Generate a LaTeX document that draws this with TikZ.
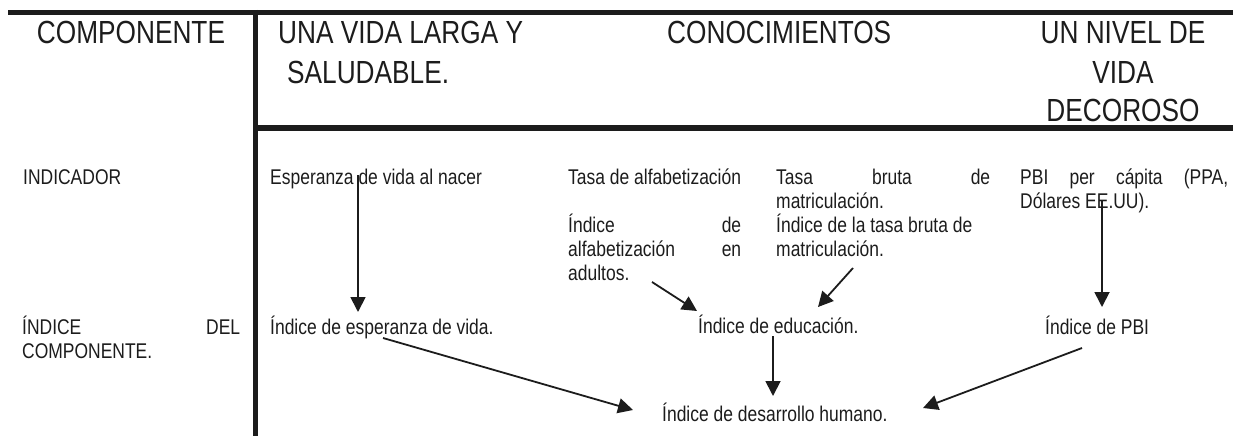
\documentclass[tikz,border=0pt]{standalone}
\usepackage{fontspec}
\setmainfont{Liberation Sans}
\newfontfamily\narrowfont{Liberation Sans}[FakeStretch=0.82]
\usetikzlibrary{arrows.meta}
\definecolor{ink}{RGB}{28,28,28}
\begin{document}
\begin{tikzpicture}[x=1pt,y=-1pt,
  rule/.style={line width=5.5pt, draw=ink, line cap=butt},
  head/.style={inner sep=0pt, font=\narrowfont\fontsize{32}{38}\selectfont, text=ink},
  body/.style={inner sep=0pt, anchor=base west, font=\narrowfont\fontsize{21.3}{24}\selectfont, text=ink},
  link/.style={draw=ink, line width=1.8pt, -{Triangle[length=15pt,width=15pt]}}]
\useasboundingbox (0,0) rectangle (1233,436);
% rules
\draw[rule] (8,12.5) -- (1233,12.5);
\draw[rule] (255.5,10) -- (255.5,436);
\draw[rule] (253,128) -- (1233,128);
% header
\node[head, anchor=base] (hcomp) at (131,44) {COMPONENTE};
\node[head, anchor=base west] (hvida1) at (278,44) {UNA VIDA LARGA Y};
\node[head, anchor=base west] (hvida2) at (287,83) {SALUDABLE.};
\node[head, anchor=base west] (hcono) at (667,44) {CONOCIMIENTOS};
\node[head, anchor=base] (hniv1) at (1123,44) {UN NIVEL DE};
\node[head, anchor=base] (hniv2) at (1123,83) {VIDA};
\node[head, anchor=base] (hniv3) at (1123,121) {DECOROSO};
% indicators
\node[body] (ind) at (23,184) {INDICADOR};
\node[body] (esp) at (270,184) {Esperanza de vida al nacer};
\node[body] (alf1) at (568,184) {Tasa de alfabetización};
\node[body] (alf2) at (568,232) {\makebox[173pt][s]{Índice de}};
\node[body] (alf3) at (568,256) {\makebox[173pt][s]{alfabetización en}};
\node[body] (alf4) at (568,280) {adultos.};
\node[body] (mat1) at (776,184) {\makebox[214pt][s]{Tasa bruta de}};
\node[body] (mat2) at (776,208) {matriculación.};
\node[body] (mat3) at (776,232) {Índice de la tasa bruta de};
\node[body] (mat4) at (776,256) {matriculación.};
\node[body] (pbi1) at (1020,184) {\makebox[208pt][s]{PBI per cápita (PPA,}};
\node[body] (pbi2) at (1020,208) {Dólares EE.UU).};
% component indices
\node[body] (icl1) at (22,334) {\makebox[218pt][s]{ÍNDICE DEL}};
\node[body] (icl2) at (22,358) {COMPONENTE.};
\node[body] (iesp) at (270,334) {Índice de esperanza de vida.};
\node[body] (iedu) at (698,333) {Índice de educación.};
\node[body] (ipbi) at (1045,334) {Índice de PBI};
\node[body] (idh) at (662,421) {Índice de desarrollo humano.};
% connector ends
\coordinate (a1s) at (358,175);  \coordinate (a1e) at (358,312);
\coordinate (a2s) at (383,338);  \coordinate (a2e) at (633,410);
\coordinate (a3s) at (652,282);  \coordinate (a3e) at (697,311);
\coordinate (a4s) at (853,268);  \coordinate (a4e) at (818,307);
\coordinate (a5s) at (773,336);  \coordinate (a5e) at (773,396);
\coordinate (a6s) at (1102,201); \coordinate (a6e) at (1102,307);
\coordinate (a7s) at (1082,348); \coordinate (a7e) at (923,408);
\draw[link] (a1s) -- (a1e);
\draw[link] (a2s) -- (a2e);
\draw[link] (a3s) -- (a3e);
\draw[link] (a4s) -- (a4e);
\draw[link] (a5s) -- (a5e);
\draw[link] (a6s) -- (a6e);
\draw[link] (a7s) -- (a7e);
\end{tikzpicture}
\end{document}
